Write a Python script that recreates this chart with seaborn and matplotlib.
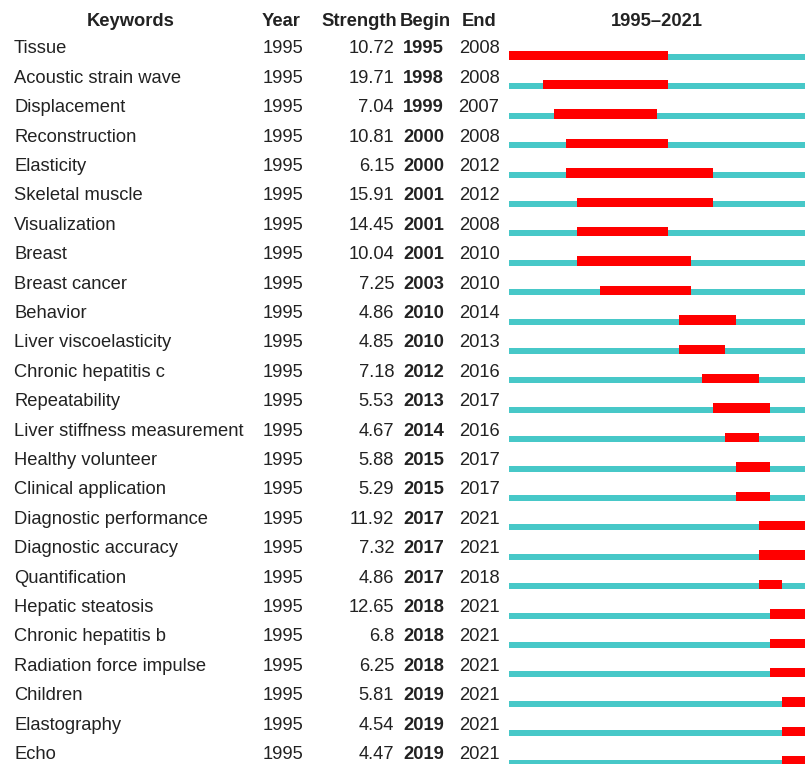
import matplotlib
matplotlib.use("Agg")
import matplotlib.pyplot as plt
import matplotlib.transforms as mtransforms
import seaborn as sns

keywords = ["Tissue", "Acoustic strain wave", "Displacement", "Reconstruction", "Elasticity",
            "Skeletal muscle", "Visualization", "Breast", "Breast cancer", "Behavior",
            "Liver viscoelasticity", "Chronic hepatitis c", "Repeatability",
            "Liver stiffness measurement", "Healthy volunteer", "Clinical application",
            "Diagnostic performance", "Diagnostic accuracy", "Quantification",
            "Hepatic steatosis", "Chronic hepatitis b", "Radiation force impulse",
            "Children", "Elastography", "Echo"]
years = [1995] * 25
strength = [10.72, 19.71, 7.04, 10.81, 6.15, 15.91, 14.45, 10.04, 7.25, 4.86,
            4.85, 7.18, 5.53, 4.67, 5.88, 5.29, 11.92, 7.32, 4.86, 12.65,
            6.8, 6.25, 5.81, 4.54, 4.47]
begin = [1995, 1998, 1999, 2000, 2000, 2001, 2001, 2001, 2003, 2010,
         2010, 2012, 2013, 2014, 2015, 2015, 2017, 2017, 2017, 2018,
         2018, 2018, 2019, 2019, 2019]
end = [2008, 2008, 2007, 2008, 2012, 2012, 2008, 2010, 2010, 2014,
       2013, 2016, 2017, 2016, 2017, 2017, 2021, 2021, 2018, 2021,
       2021, 2021, 2021, 2021, 2021]
headers = ["Keywords", "Year", "Strength", "Begin", "End"]
range_start, range_end = 1995, 2021
span_label = f"{range_start}\u2013{range_end}"

sns.set_theme(style="white")
plt.rcParams["font.family"] = ["Liberation Sans", "DejaVu Sans"]

W, H = 805, 764
fig = plt.figure(figsize=(W / 100, H / 100), dpi=100)
ax = fig.add_axes([509 / W, 0, 1 - 509 / W, 1])

n = len(keywords)
rows = list(range(n))
red_h, teal_h = 0.315, 0.204
teal_off = (red_h - teal_h) / 2

# background (teal) timeline bars
ax.barh([r + teal_off for r in rows], [range_end + 1 - range_start] * n, left=range_start,
        height=teal_h, color="#47C8C8", linewidth=0)
# burst (red) bars
ax.barh(rows, [e + 1 - b for b, e in zip(begin, end)], left=begin,
        height=red_h, color="#FF0000", linewidth=0)

ax.set_xlim(range_start, range_start + 26.06)
ax.set_ylim(24.105, -1.881)
ax.axis("off")

tr = mtransforms.blended_transform_factory(fig.transFigure, ax.transData)
fs = 13.2
tc = "#222222"
hy = -0.997
kw = dict(transform=tr, va="baseline", fontsize=fs, color=tc)
ax.text(131 / W, hy, headers[0], ha="center", fontweight="bold", **kw)
ax.text(281 / W, hy, headers[1], ha="center", fontweight="bold", **kw)
ax.text(397 / W, hy, headers[2], ha="right", fontweight="bold", **kw)
ax.text(425 / W, hy, headers[3], ha="center", fontweight="bold", **kw)
ax.text(479 / W, hy, headers[4], ha="center", fontweight="bold", **kw)
ax.text(657 / W, hy, span_label, ha="center", fontweight="bold", **kw)

toff = -0.068
for i in rows:
    y = i + toff
    ax.text(14 / W, y, keywords[i], ha="left", **kw)
    ax.text(283 / W, y, str(years[i]), ha="center", **kw)
    ax.text(394 / W, y, f"{strength[i]:g}", ha="right", **kw)
    ax.text(423.5 / W, y, str(begin[i]), ha="center", fontweight="bold", **kw)
    ax.text(479 / W, y, str(end[i]), ha="center", **kw)

fig.savefig("out.png", dpi=100)
